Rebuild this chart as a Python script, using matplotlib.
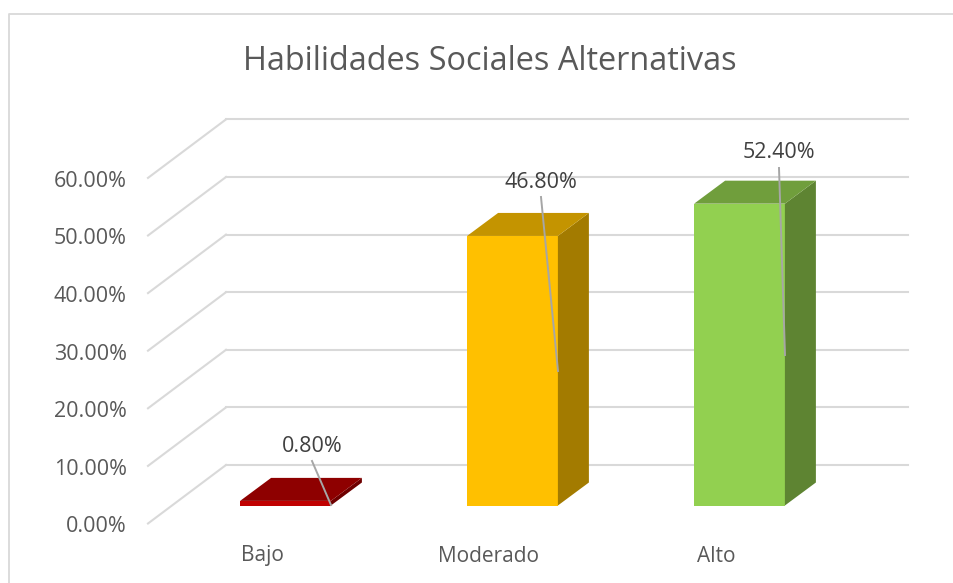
import matplotlib
matplotlib.use("Agg")
import matplotlib.pyplot as plt
from matplotlib.patches import Polygon
from matplotlib.lines import Line2D

categories = ["Bajo", "Moderado", "Alto"]
values = [0.8, 46.8, 52.4]
ticks = [0, 10, 20, 30, 40, 50, 60]
tick_labels = ["0.00%", "10.00%", "20.00%", "30.00%", "40.00%", "50.00%", "60.00%"]
front_colors = ["#C00000", "#FFC000", "#92D050"]
top_colors = ["#8E0000", "#C49400", "#709E3C"]
side_colors = ["#6E0000", "#A37B00", "#5E8432"]

W, H = 954, 583
plt.rcParams["font.family"] = ["Open Sans", "DejaVu Sans"]
fig = plt.figure(figsize=(W / 100, H / 100), dpi=100, facecolor="white")
ax = fig.add_axes([0, 0, 1, 1])
X0, XS, Y0, YS = 285.5, 227.0, 505.5, 5.76
ax.set_xlim(-X0 / XS, (W - X0) / XS)
ax.set_ylim((Y0 - H) / YS, Y0 / YS)
ax.axis("off")

cx = lambda px: (px - X0) / XS
cy = lambda py: (Y0 - py) / YS
BW = 0.4
DX, DY = 31, 23.0   # bar depth in pixels
FRONT, BACK = 18.0, 40.5   # wall offsets from the bar base, in pixels
GRID = "#D9D9D9"
TXT = "#595959"

# chart border
ax.add_line(Line2D([cx(8.5), cx(8.5), cx(954)], [cy(583), cy(14), cy(14)],
                   color=GRID, lw=1.3, zorder=1))

# gridlines and value-axis labels
for t, lab in zip(ticks, tick_labels):
    ax.add_line(Line2D([cx(148), cx(226)], [t - FRONT / YS, t + BACK / YS],
                       color=GRID, lw=1.5, zorder=1))
    ax.add_line(Line2D([cx(226), cx(908)], [t + BACK / YS, t + BACK / YS],
                       color=GRID, lw=1.5, zorder=1))
    ax.text(cx(127), t - (FRONT + 3.5) / YS, lab, ha="right", va="center",
            fontsize=15.5, color=TXT)

# bars
for i, (v, f, tc, sc) in enumerate(zip(values, front_colors, top_colors, side_colors)):
    l, r = i - BW / 2, i + BW / 2
    ddx, ddy = DX / XS, DY / YS
    ax.add_patch(Polygon([(l, 0), (r, 0), (r, v), (l, v)], closed=True, fc=f, ec="none", zorder=3))
    ax.add_patch(Polygon([(r, 0), (r + ddx, ddy), (r + ddx, v + ddy), (r, v)],
                         closed=True, fc=sc, ec="none", zorder=3))
    ax.add_patch(Polygon([(l, v), (r, v), (r + ddx, v + ddy), (l + ddx, v + ddy)],
                         closed=True, fc=tc, ec="none", zorder=3))
    ax.text(i - 23.5 / XS, -50.5 / YS, categories[i], ha="center", va="center",
            fontsize=15, color=TXT)

# data labels with leader lines
label_pos = [(312, 446), (541, 182), (779, 152.5)]
lead_start = [(312, 461), (541, 197), (779, 168)]
lead_end = [(331, 505), (558, 371), (785, 355)]
for v, p, s, e in zip(values, label_pos, lead_start, lead_end):
    ax.text(cx(p[0]), cy(p[1]), f"{v:.2f}%", ha="center", va="center",
            fontsize=15.5, color="#404040", zorder=5)
    ax.add_line(Line2D([cx(s[0]), cx(e[0])], [cy(s[1]), cy(e[1])],
                       color="#A6A6A6", lw=1.4, zorder=4))

ax.text(cx(489.5), cy(61), "Habilidades Sociales Alternativas", ha="center", va="center",
        fontsize=23.4, color=TXT)

fig.savefig("out.png", dpi=100)
